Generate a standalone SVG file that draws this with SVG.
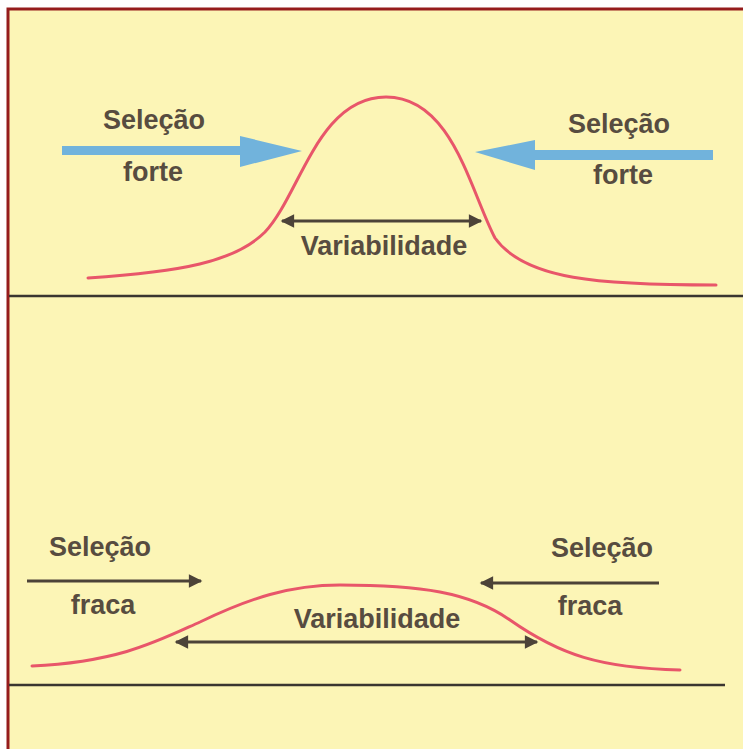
<svg xmlns="http://www.w3.org/2000/svg" width="743" height="749" viewBox="0 0 743 749">
<defs>
<style>
.lbl{font-family:"Liberation Sans",Arial,sans-serif;font-weight:bold;font-size:27px;fill:#574c40;text-anchor:middle}
.curve{fill:none;stroke:#e8566a;stroke-width:3;stroke-linecap:round}
.dark{stroke:#4c4338;stroke-width:3;fill:none}
.rule{stroke:#3a3530;stroke-width:2.5}
.blue{fill:#71b3dc}
</style>
<marker id="ah" viewBox="0 0 10 10" refX="9" refY="5" markerWidth="6" markerHeight="4.5" orient="auto-start-reverse" markerUnits="strokeWidth">
<path d="M0,0 L10,5 L0,10 z" fill="#4c4338"/>
</marker>
</defs>
<rect x="0" y="0" width="743" height="749" fill="#ffffff"/>
<rect x="8" y="9" width="740" height="745" fill="#fcf5b6"/>
<path d="M8,749 L8,9 L743,9" fill="none" stroke="#951c1c" stroke-width="3"/>

<g id="top-panel">
<g id="top-curve"><path class="curve" d="M88,278 C180,272 235,262 265,232 C300,195 318,97 386,97 C452,97 470,190 495,238 C525,280 600,285 716,285"/></g>
<g id="top-left-label"><text class="lbl" x="154" y="129">Seleção</text><text class="lbl" x="153" y="181">forte</text></g>
<g id="top-right-label"><text class="lbl" x="619" y="133">Seleção</text><text class="lbl" x="623" y="184">forte</text></g>
<g id="top-var-label"><text class="lbl" x="384" y="255">Variabilidade</text></g>
</g>

<g id="bottom-panel">
<g id="bottom-curve"><path class="curve" d="M32,666 C120,662 160,640 200,622 C250,598 290,585 340,585 C420,585 470,592 510,620 C560,655 600,668 680,670"/></g>
<g id="bottom-left-label"><text class="lbl" x="100" y="556">Seleção</text><text class="lbl" x="103" y="614">fraca</text></g>
<g id="bottom-right-label"><text class="lbl" x="602" y="557">Seleção</text><text class="lbl" x="590" y="615">fraca</text></g>
<g id="bottom-var-label"><text class="lbl" x="377" y="628">Variabilidade</text></g>
</g>

<g id="connectors">
<path class="blue" d="M62,146 L240,146 L240,136 L302,151 L240,167 L240,155 L62,155 z"/>
<path class="blue" d="M713,150 L535,150 L535,140 L475,152 L535,170 L535,160 L713,160 z"/>
<line class="dark" x1="282" y1="221" x2="481" y2="221" marker-start="url(#ah)" marker-end="url(#ah)"/>
<line class="dark" x1="27" y1="581" x2="201" y2="581" marker-end="url(#ah)"/>
<line class="dark" x1="659" y1="583" x2="481" y2="583" marker-end="url(#ah)"/>
<line class="dark" x1="176" y1="642" x2="537" y2="642" marker-start="url(#ah)" marker-end="url(#ah)"/>
</g>

<g id="rules">
<line class="rule" x1="9" y1="296" x2="743" y2="296"/>
<line class="rule" x1="9" y1="685" x2="725" y2="685"/>
</g>
</svg>
